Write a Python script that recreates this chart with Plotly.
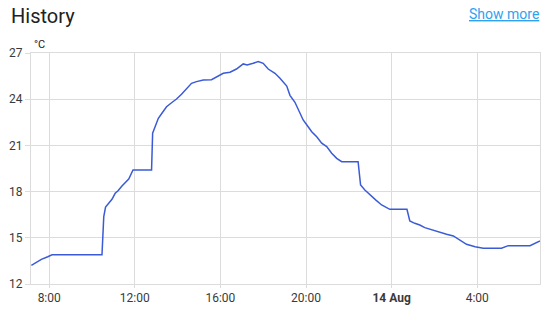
import plotly.graph_objects as go

times = [
    "2023-08-13 07:10", "2023-08-13 07:38", "2023-08-13 07:56", "2023-08-13 08:08",
    "2023-08-13 10:28", "2023-08-13 10:33", "2023-08-13 10:38", "2023-08-13 10:49",
    "2023-08-13 10:56", "2023-08-13 11:05", "2023-08-13 11:13", "2023-08-13 11:24",
    "2023-08-13 11:33", "2023-08-13 11:43", "2023-08-13 11:55", "2023-08-13 12:47",
    "2023-08-13 12:50", "2023-08-13 12:56", "2023-08-13 13:06", "2023-08-13 13:18",
    "2023-08-13 13:29", "2023-08-13 13:43", "2023-08-13 13:57", "2023-08-13 14:11",
    "2023-08-13 14:25", "2023-08-13 14:39", "2023-08-13 14:53", "2023-08-13 15:12",
    "2023-08-13 15:35", "2023-08-13 15:49", "2023-08-13 16:08", "2023-08-13 16:27",
    "2023-08-13 16:45", "2023-08-13 17:04", "2023-08-13 17:15", "2023-08-13 17:32",
    "2023-08-13 17:46", "2023-08-13 18:00", "2023-08-13 18:14", "2023-08-13 18:33",
    "2023-08-13 18:47", "2023-08-13 19:06", "2023-08-13 19:15", "2023-08-13 19:29",
    "2023-08-13 19:41", "2023-08-13 19:52", "2023-08-13 20:06", "2023-08-13 20:16",
    "2023-08-13 20:30", "2023-08-13 20:44", "2023-08-13 20:58", "2023-08-13 21:12",
    "2023-08-13 21:26", "2023-08-13 21:40", "2023-08-13 22:26", "2023-08-13 22:33",
    "2023-08-13 22:45", "2023-08-13 22:59", "2023-08-13 23:16", "2023-08-13 23:32",
    "2023-08-13 23:55", "2023-08-14 00:43", "2023-08-14 00:51", "2023-08-14 01:05",
    "2023-08-14 01:19", "2023-08-14 01:33", "2023-08-14 01:47", "2023-08-14 02:11",
    "2023-08-14 02:34", "2023-08-14 02:53", "2023-08-14 03:12", "2023-08-14 03:30",
    "2023-08-14 03:54", "2023-08-14 04:17", "2023-08-14 05:08", "2023-08-14 05:27",
    "2023-08-14 06:28", "2023-08-14 06:56",
]
temps = [
    13.21, 13.6, 13.77, 13.9,
    13.9, 16.37, 17.0, 17.28,
    17.5, 17.89, 18.06, 18.36,
    18.58, 18.82, 19.4, 19.4,
    21.79, 22.21, 22.76, 23.15,
    23.51, 23.77, 24.01, 24.32,
    24.71, 25.03, 25.14, 25.25,
    25.27, 25.46, 25.68, 25.75,
    25.96, 26.29, 26.22, 26.33,
    26.44, 26.33, 25.96, 25.68,
    25.36, 24.85, 24.25, 23.8,
    23.2, 22.65, 22.21, 21.89,
    21.56, 21.14, 20.92, 20.49,
    20.16, 19.94, 19.94, 18.43,
    18.1, 17.78, 17.45, 17.13,
    16.85, 16.85, 16.09, 15.94,
    15.83, 15.66, 15.55, 15.4,
    15.23, 15.12, 14.86, 14.58,
    14.42, 14.32, 14.32, 14.49,
    14.49, 14.79,
]

x_tick_vals = ["2023-08-13 08:00", "2023-08-13 12:00", "2023-08-13 16:00",
               "2023-08-13 20:00", "2023-08-14 00:00", "2023-08-14 04:00"]
x_tick_text = ["8:00", "12:00", "16:00", "20:00", "<b>14 Aug</b>", "4:00"]
y_tick_vals = [12, 15, 18, 21, 24, 27]

fig = go.Figure()
fig.add_trace(go.Scatter(
    x=times, y=temps, mode="lines",
    line=dict(color="#3b5bd6", width=1.5),
    hoverinfo="skip", showlegend=False,
))

grid = "#dcdcdc"
fig.update_layout(
    width=548, height=321,
    margin=dict(l=31, r=8, t=53, b=37),
    paper_bgcolor="white", plot_bgcolor="white",
    font=dict(family="Roboto", size=12, color="#3a3a3a"),
    showlegend=False,
    xaxis=dict(
        type="date",
        range=["2023-08-13 07:09", "2023-08-14 06:56"],
        tickvals=x_tick_vals, ticktext=x_tick_text,
        showgrid=True, gridcolor=grid, gridwidth=1,
        showline=True, linecolor=grid, mirror=True,
        ticks="outside", ticklen=3, tickcolor=grid,
        zeroline=False, fixedrange=True,
    ),
    yaxis=dict(
        range=[12, 27],
        tickvals=y_tick_vals,
        showgrid=True, gridcolor=grid, gridwidth=1,
        showline=True, linecolor=grid, mirror=True,
        ticks="outside", ticklen=5, tickcolor=grid,
        zeroline=False, fixedrange=True,
    ),
    annotations=[
        dict(text="History", x=9, y=16, xref="paper", yref="paper",
             showarrow=False, xanchor="left", yanchor="middle",
             font=dict(family="Roboto", size=20, color="#212121")),
        dict(text="<u>Show more</u>", x=541, y=14, showarrow=False,
             xanchor="right", yanchor="middle",
             font=dict(family="Roboto", size=14, color="#2fa2ee")),
        dict(text="°C", x=32, y=44, showarrow=False,
             xanchor="left", yanchor="middle",
             font=dict(family="Roboto", size=11, color="#212121")),
    ],
)

# convert pixel-placed annotations to paper coordinates
W, H = 548, 321
l, r, t, b = 31, 8, 53, 37
pw, ph = W - l - r, H - t - b
anns = list(fig.layout.annotations)
new = []
for a in anns:
    px, py = a.x, a.y
    a.xref = "paper"; a.yref = "paper"
    a.x = (px - l) / pw
    a.y = 1 - (py - t) / ph
    new.append(a)
fig.layout.annotations = new

fig.write_html("out.html")
